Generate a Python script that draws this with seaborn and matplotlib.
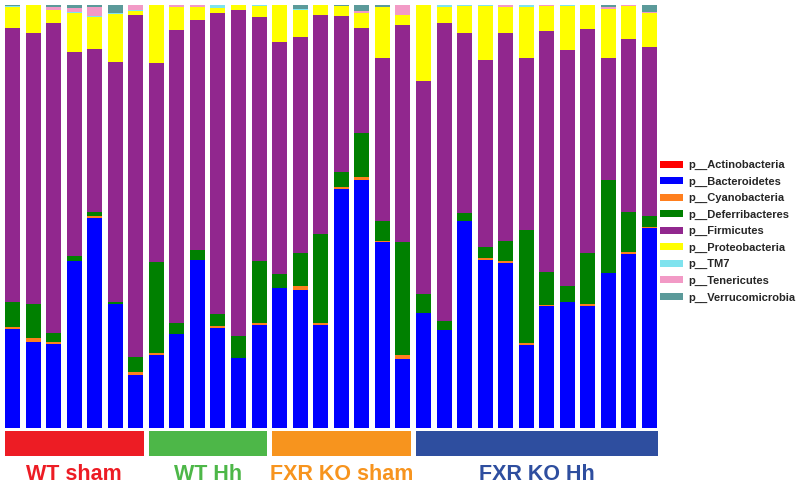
import matplotlib
matplotlib.use("Agg")
import numpy as np
import pandas as pd
import matplotlib.pyplot as plt
from matplotlib.patches import Rectangle, Patch
import seaborn as sns

# relative abundance per sample (normalised below)
groups = ["WT sham", "WT Hh", "FXR KO sham", "FXR KO Hh"]
group_sizes = [7, 6, 7, 12]
group_colors = ["#ED1C24", "#4DB748", "#F7941E", "#2E4E9F"]

phyla = ["p__Actinobacteria", "p__Bacteroidetes", "p__Cyanobacteria",
         "p__Deferribacteres", "p__Firmicutes", "p__Proteobacteria",
         "p__TM7", "p__Tenericutes", "p__Verrucomicrobia"]
phylum_colors = ["#FF0000", "#0000FF", "#FF7F1E", "#008000", "#91278E",
                 "#FFFF00", "#7FE3EE", "#F29AC6", "#5B9A9A"]

actinobacteria = [0] * 32
bacteroidetes = [99, 86, 84, 167, 210, 124, 53,
                 73, 94, 168, 100, 70, 103,
                 140, 138, 103, 239, 248, 186, 69,
                 115, 98, 207, 168, 165, 83, 122, 126, 122, 155, 174, 200]
cyanobacteria = [2, 4, 2, 0, 2, 0, 3,
                 2, 0, 0, 2, 0, 2,
                 0, 4, 2, 2, 3, 1, 4,
                 0, 0, 0, 2, 2, 2, 1, 0, 2, 0, 2, 1]
deferribacteres = [25, 34, 9, 5, 4, 2, 15,
                   91, 11, 10, 12, 22, 62,
                   14, 33, 89, 15, 44, 20, 113,
                   19, 9, 8, 11, 20, 113, 33, 16, 51, 93, 40, 11]
firmicutes = [275, 271, 310, 204, 163, 240, 342,
              199, 293, 230, 301, 326, 244,
              232, 216, 219, 156, 105, 163, 217,
              213, 298, 180, 187, 208, 172, 241, 236, 224, 122, 173, 169]
proteobacteria = [21, 28, 13, 39, 32, 48, 4,
                  58, 23, 13, 5, 5, 11,
                  37, 27, 10, 10, 15, 51, 10,
                  76, 16, 27, 54, 26, 51, 25, 44, 24, 49, 33, 34]
tm7 = [1, 0, 0, 1, 1, 1, 1,
       0, 0, 0, 3, 0, 1,
       0, 1, 0, 0, 0, 0, 0,
       0, 2, 1, 1, 0, 2, 0, 1, 0, 0, 0, 0]
tenericutes = [0, 0, 3, 4, 9, 0, 5,
               0, 2, 2, 0, 0, 0,
               0, 0, 0, 0, 2, 0, 10,
               0, 0, 0, 0, 2, 0, 1, 0, 0, 2, 1, 1]
verrucomicrobia = [1, 0, 2, 3, 2, 8, 0,
                   0, 0, 0, 0, 0, 0,
                   0, 4, 0, 1, 6, 2, 0,
                   0, 0, 0, 0, 0, 0, 0, 0, 0, 2, 0, 7]

samples = [f"{g}_{i + 1}" for g, n in zip(groups, group_sizes) for i in range(n)]

df = pd.DataFrame({
    phyla[0]: actinobacteria, phyla[1]: bacteroidetes, phyla[2]: cyanobacteria,
    phyla[3]: deferribacteres, phyla[4]: firmicutes, phyla[5]: proteobacteria,
    phyla[6]: tm7, phyla[7]: tenericutes, phyla[8]: verrucomicrobia,
}, index=samples)
df = df.div(df.sum(axis=1), axis=0) * 100
cum = df.cumsum(axis=1)

sns.set_style("white")
plt.rcParams['font.family'] = ['Liberation Sans', 'DejaVu Sans']

fig = plt.figure(figsize=(7.98, 4.87), dpi=100)
L, W = 2.2 / 798, 657.6 / 798
ax = fig.add_axes([L, 59 / 487, W, 423 / 487])

# stacked bars: draw cumulative totals from the top layer down
for ph, col in reversed(list(zip(phyla, phylum_colors))):
    sns.barplot(x=samples, y=cum[ph].values, order=samples, color=col,
                saturation=1, width=0.73, linewidth=0, errorbar=None, ax=ax)
ax.set_xlim(-0.5, len(samples) - 0.5)
ax.set_ylim(0, 100)
ax.axis("off")

# group strip + labels
sax = fig.add_axes([L, 31 / 487, W, 25 / 487])
sax.set_xlim(-0.5, len(samples) - 0.5)
sax.set_ylim(0, 1)
sax.axis("off")
start = 0
for g, n, c in zip(groups, group_sizes, group_colors):
    end = start + n - 1
    sax.add_patch(Rectangle((start - 0.38, 0), end - start + 0.78, 1,
                            facecolor=c, edgecolor="none", clip_on=False))
    sax.text((start + end) / 2 + 0.01, -0.74, g, ha="center", va="center",
             color=c, fontsize=15.5, fontweight="bold", clip_on=False)
    start = end + 1

handles = [Patch(facecolor=c, edgecolor="none") for c in phylum_colors]
fig.legend(handles, phyla, loc="upper left",
           bbox_to_anchor=(660 / 798, 1 - 160 / 487), frameon=False,
           prop={"size": 8, "weight": "bold"}, handlelength=2.1,
           handleheight=0.6, labelspacing=0.58, borderpad=0,
           borderaxespad=0, handletextpad=0.45)

fig.savefig("out.png", dpi=100)
